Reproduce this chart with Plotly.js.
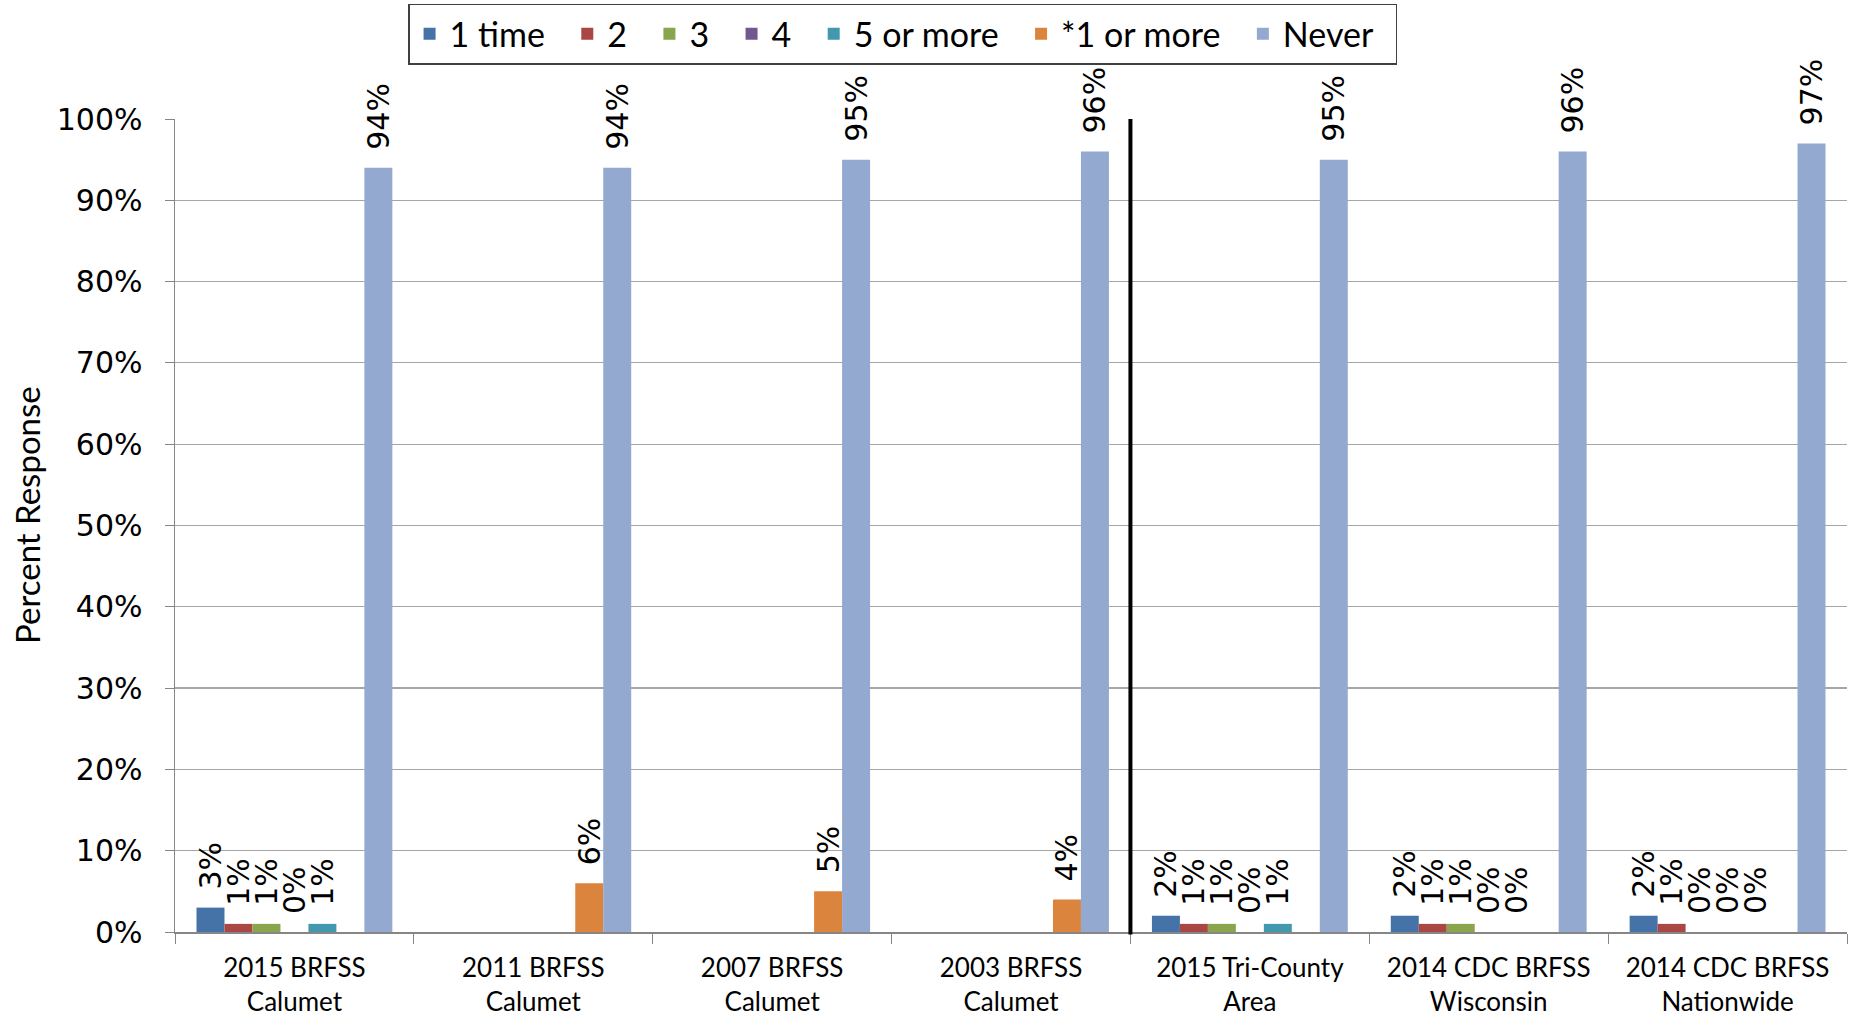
<!DOCTYPE html>
<html>
<head>
<meta charset="utf-8">
<script src="https://cdn.plot.ly/plotly-3.0.1.min.js"></script>
<style>html,body{margin:0;padding:0;background:#fff;}#chart{width:1850px;height:1019px;}</style>
</head>
<body>
<div id="chart"></div>
<script>
const categories = [
  "2015 BRFSS<br>Calumet",
  "2011 BRFSS<br>Calumet",
  "2007 BRFSS<br>Calumet",
  "2003 BRFSS<br>Calumet",
  "2015 Tri-County<br>Area",
  "2014 CDC BRFSS<br>Wisconsin",
  "2014 CDC BRFSS<br>Nationwide"
];
const seriesNames = ["1 time", "2", "3", "4", "5 or more", "*1 or more", "Never"];
const oneTime    = [3, null, null, null, 2, 2, 2];
const two        = [1, null, null, null, 1, 1, 1];
const three      = [1, null, null, null, 1, 1, 0];
const four       = [0, null, null, null, 0, 0, 0];
const fiveOrMore = [1, null, null, null, 1, 0, 0];
const oneOrMore  = [null, 6, 5, 4, null, null, null];
const never      = [94, 94, 95, 96, 95, 96, 97];
const yTicks = [0, 10, 20, 30, 40, 50, 60, 70, 80, 90, 100];

const seriesValues = [oneTime, two, three, four, fiveOrMore, oneOrMore, never];
const colors = ["#4572A7", "#AA4643", "#89A54E", "#71588F", "#4198AF", "#DB843D", "#93A9CF"];
const PAD = "\u00A0\u00A0";

const traces = seriesValues.map((vals, i) => ({
  type: "bar",
  name: seriesNames[i] + PAD,
  x: categories,
  y: vals,
  marker: {color: colors[i]},
  text: vals.map(v => v === null ? "" : "\u2002" + v + "%"),
  textposition: "outside",
  textangle: -90,
  constraintext: "none",
  cliponaxis: false,
  textfont: {family: "DejaVu Sans", size: 30, color: "#000"},
  hoverinfo: "skip"
}));

const layout = {
  width: 1850,
  height: 1019,
  margin: {l: 175, r: 3, t: 119, b: 87},
  paper_bgcolor: "#fff",
  plot_bgcolor: "#fff",
  barmode: "group",
  bargap: 0.18,
  bargroupgap: 0,
  showlegend: true,
  legend: {
    orientation: "h",
    x: 0.1394, xanchor: "left",
    y: 1.142, yanchor: "top",
    bordercolor: "#404040",
    borderwidth: 1.5,
    font: {family: "Lato", size: 34, color: "#000"},
    traceorder: "normal"
  },
  xaxis: {
    type: "category",
    tickson: "boundaries",
    ticks: "outside",
    ticklen: 10,
    tickcolor: "#868686",
    showline: true,
    linecolor: "#868686",
    linewidth: 1.5,
    showgrid: false,
    tickfont: {family: "Lato", size: 26, color: "#000"},
    ticklabelstandoff: 12,
    automargin: false
  },
  yaxis: {
    range: [0, 100],
    tickvals: yTicks,
    ticktext: yTicks.map(v => v + "%"),
    ticks: "outside",
    ticklen: 9,
    tickcolor: "#868686",
    showline: true,
    linecolor: "#868686",
    linewidth: 1.5,
    showgrid: true,
    gridcolor: "#A6A6A6",
    gridwidth: 1.2,
    zeroline: false,
    tickfont: {family: "DejaVu Sans", size: 30, color: "#000"},
    ticklabelstandoff: 16,
    automargin: false
  },
  shapes: [{
    type: "line",
    xref: "x", yref: "paper",
    x0: 3.5, x1: 3.5, y0: -0.003, y1: 1,
    line: {color: "#000", width: 4}
  }],
  annotations: [{
    text: "Percent Response",
    xref: "paper", yref: "paper",
    x: -0.0885, y: 0.513,
    xanchor: "center", yanchor: "middle",
    textangle: -90,
    showarrow: false,
    font: {family: "Lato", size: 33, color: "#000"}
  }]
};

Plotly.newPlot("chart", traces, layout, {displayModeBar: false, staticPlot: true});
</script>
</body>
</html>
